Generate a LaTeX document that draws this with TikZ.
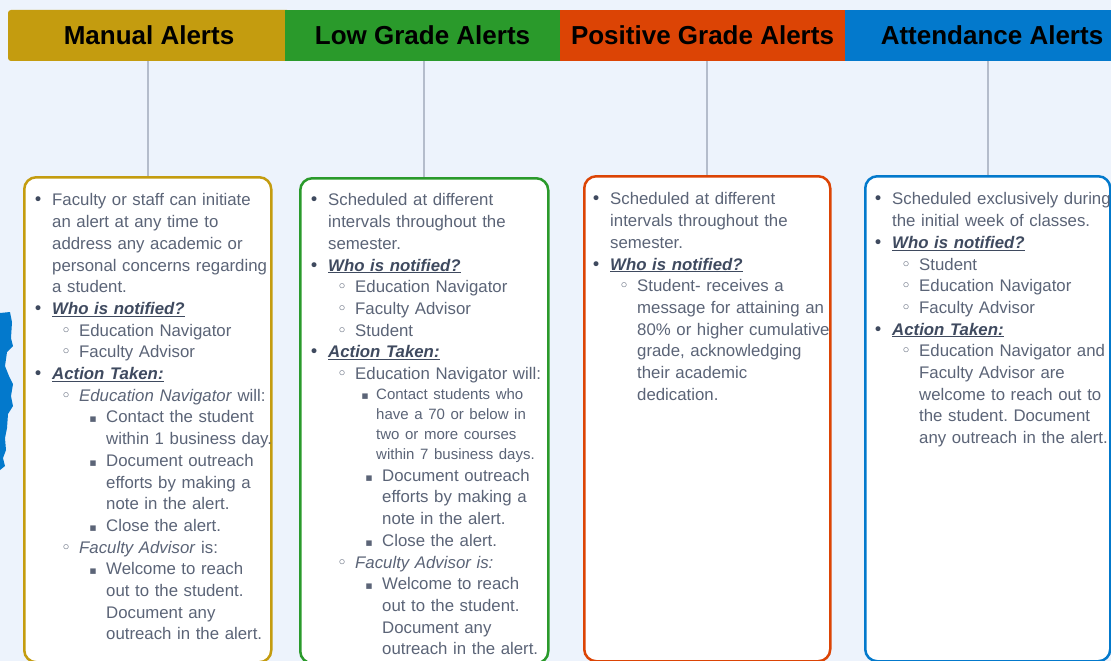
\documentclass[tikz,border=0pt]{standalone}
\usepackage{fontspec}
\setmainfont{Liberation Sans}
\newfontfamily\symfont{DejaVu Sans}
\usepackage{enumitem}
\usetikzlibrary{positioning}
\frenchspacing

\definecolor{cBack}{HTML}{EDF3FC}
\definecolor{cManual}{HTML}{C49C0F}
\definecolor{cLow}{HTML}{2A9A2B}
\definecolor{cPos}{HTML}{DC4405}
\definecolor{cAtt}{HTML}{0379CC}
\definecolor{cLine}{HTML}{B4BCCB}
\definecolor{cText}{HTML}{5B6477}
\definecolor{cHead}{HTML}{3F4A5F}

\newcommand{\bula}{{\symfont\fontsize{17}{17}\selectfont\color{cHead}•}}
\newcommand{\bulb}{{\symfont\fontsize{17}{17}\selectfont ◦}}
\newcommand{\bulc}{{\symfont\fontsize{11}{11}\selectfont ▪}}
\newcommand{\hd}[1]{\textcolor{cHead}{\underline{\textbf{\textit{#1}}}}}

\setlist{topsep=0pt, partopsep=0pt, itemsep=0pt, parsep=0pt, labelwidth=0pt, itemindent=0pt}
\setlist[itemize,1]{label=\makebox[0pt]{\bula}, leftmargin=14pt, labelsep=14pt}
\setlist[itemize,2]{label=\makebox[0pt]{\bulb}, leftmargin=27pt, labelsep=13pt}
\setlist[itemize,3]{label=\makebox[0pt]{\bulc}, leftmargin=27pt, labelsep=13pt}

\tikzset{
  hdr/.style={inner sep=0pt, minimum height=51pt, text=black,
    font=\fontsize{26}{30}\selectfont\bfseries},
  card/.style={draw=#1, line width=2.5pt, fill=white, rounded corners=12pt,
    minimum height=485pt, anchor=north west},
  conn/.style={cLine, line width=2pt},
  txt/.style={anchor=north west, inner sep=0pt, text width=300pt, align=left,
    text=cText, font=\fontsize{16.8}{21.7}\selectfont}
}

\begin{document}
\begin{tikzpicture}[x=1pt, y=-1pt]
% background
\fill[cBack] (0,0) rectangle (1111,661);
\useasboundingbox (0,0) rectangle (1111,661);

% stray blue mark at the left edge
\fill[cAtt] (0,313) -- (10,312) -- (12,322) -- (11,338) -- (13,346) -- (7,352)
  -- (5,366) -- (9,376) -- (13,384) -- (11,396) -- (13,406) -- (8,414)
  -- (7,428) -- (5,438) -- (6,450) -- (3,458) -- (5,466) -- (0,470) -- cycle;

% header bar
\node[hdr, fill=cManual, rounded corners=3pt, minimum width=282pt] (hManual) at (149,35.5) {Manual Alerts};
\node[hdr, fill=cLow, minimum width=275pt] (hLow) at (422.5,35.5) {Low Grade Alerts};
\node[hdr, fill=cPos, minimum width=285pt] (hPos) at (702.5,35.5) {Positive Grade Alerts};
\node[hdr, fill=cAtt, minimum width=294pt] (hAtt) at (992,35.5) {Attendance Alerts};

% cards
\node[card=cManual, minimum width=247pt] (bManual) at (23,176) {};
\node[card=cLow, minimum width=248pt] (bLow) at (299,177) {};
\node[card=cPos, minimum width=246pt] (bPos) at (583,175) {};
\node[card=cAtt, minimum width=245pt] (bAtt) at (864,175) {};

% connectors
\draw[conn] (bManual.north |- hManual.south) -- (bManual.north);
\draw[conn] (bLow.north |- hLow.south) -- (bLow.north);
\draw[conn] (bPos.north |- hPos.south) -- (bPos.north);
\draw[conn] (bAtt.north |- hAtt.south) -- (bAtt.north);

% card texts
\node[txt] (tManual) at ([xshift=15pt, yshift=-8pt]bManual.north west) {%
\begin{itemize}
\item Faculty or staff can initiate\newline an alert at any time to\newline address any academic or\newline personal concerns regarding\newline a student.
\item \hd{Who is notified?}
  \begin{itemize}
  \item Education Navigator
  \item Faculty Advisor
  \end{itemize}
\item \hd{Action Taken:}
  \begin{itemize}
  \item \textit{Education Navigator} will:
    \begin{itemize}
    \item Contact the student\newline within 1 business day.
    \item Document outreach\newline efforts by making a\newline note in the alert.
    \item Close the alert.
    \end{itemize}
  \item \textit{Faculty Advisor} is:
    \begin{itemize}
    \item Welcome to reach\newline out to the student.\newline Document any\newline outreach in the alert.
    \end{itemize}
  \end{itemize}
\end{itemize}};

\node[txt] (tLow) at ([xshift=15pt, yshift=-7pt]bLow.north west) {%
\begin{itemize}
\item Scheduled at different\newline intervals throughout the\newline semester.
\item \hd{Who is notified?}
  \begin{itemize}
  \item Education Navigator
  \item Faculty Advisor
  \item Student
  \end{itemize}
\item \hd{Action Taken:}
  \begin{itemize}
  \item Education Navigator will:
    \begin{itemize}[leftmargin=21pt, labelsep=11pt]\fontsize{15}{20}\selectfont
    \item Contact students who\newline have a 70 or below in\newline two or more courses\newline within 7 business days.
    \end{itemize}
    \begin{itemize}
    \item Document outreach\newline efforts by making a\newline note in the alert.
    \item Close the alert.
    \end{itemize}
  \item \textit{Faculty Advisor is:}
    \begin{itemize}
    \item Welcome to reach\newline out to the student.\newline Document any\newline outreach in the alert.
    \end{itemize}
  \end{itemize}
\end{itemize}};

\node[txt] (tPos) at ([xshift=13pt, yshift=-8pt]bPos.north west) {%
\begin{itemize}
\item Scheduled at different\newline intervals throughout the\newline semester.
\item \hd{Who is notified?}
  \begin{itemize}
  \item Student- receives a\newline message for attaining an\newline 80\% or higher cumulative\newline grade, acknowledging\newline their academic\newline dedication.
  \end{itemize}
\end{itemize}};

\node[txt] (tAtt) at ([xshift=14pt, yshift=-8pt]bAtt.north west) {%
\begin{itemize}
\item Scheduled exclusively during\newline the initial week of classes.
\item \hd{Who is notified?}
  \begin{itemize}
  \item Student
  \item Education Navigator
  \item Faculty Advisor
  \end{itemize}
\item \hd{Action Taken:}
  \begin{itemize}
  \item Education Navigator and\newline Faculty Advisor are\newline welcome to reach out to\newline the student. Document\newline any outreach in the alert.
  \end{itemize}
\end{itemize}};
\end{tikzpicture}
\end{document}
